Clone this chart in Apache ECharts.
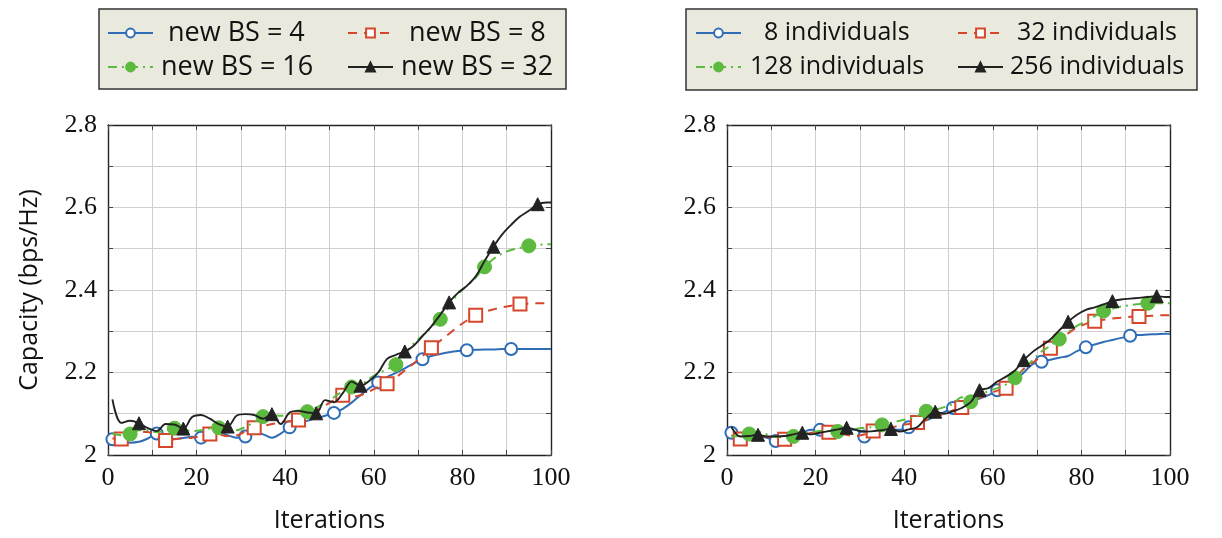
<!DOCTYPE html>
<html>
<head>
<meta charset="utf-8">
<script src="https://cdn.jsdelivr.net/npm/echarts@6/dist/echarts.min.js"></script>
<style>
  html, body { margin: 0; padding: 0; background: #ffffff; }
  #chart { width: 1222px; height: 538px; }
</style>
</head>
<body>
<div id="chart"></div>
<script>
// Iteration positions at which each curve is sampled
const iterations = [1, 3, 5, 7, 9, 11, 13, 15, 17, 19, 21, 23, 25, 27, 29, 31, 33, 35, 37, 39,
  41, 43, 45, 47, 49, 51, 53, 55, 57, 59, 61, 63, 65, 67, 69, 71, 73, 75, 77, 79,
  81, 83, 85, 87, 89, 91, 93, 95, 97, 99, 100];

// Left panel: number of new base stations
const newBsNames = ['new BS = 4', 'new BS = 8', 'new BS = 16', 'new BS = 32'];
const newBs4 = [2.038, 2.031, 2.030, 2.032, 2.040, 2.052, 2.044, 2.039, 2.041, 2.044,
  2.042, 2.050, 2.055, 2.048, 2.042, 2.045, 2.055, 2.050, 2.042, 2.052,
  2.067, 2.076, 2.083, 2.089, 2.095, 2.102, 2.112, 2.127, 2.145, 2.162,
  2.176, 2.189, 2.199, 2.210, 2.222, 2.232, 2.240, 2.245, 2.249, 2.252,
  2.254, 2.255, 2.256, 2.256, 2.257, 2.257, 2.257, 2.257, 2.257, 2.257, 2.257];
const newBs8 = [2.040, 2.039, 2.045, 2.055, 2.056, 2.045, 2.035, 2.038, 2.041, 2.042,
  2.046, 2.051, 2.050, 2.046, 2.047, 2.057, 2.066, 2.070, 2.075, 2.079,
  2.082, 2.085, 2.096, 2.108, 2.120, 2.133, 2.145, 2.141, 2.145, 2.154,
  2.165, 2.173, 2.188, 2.205, 2.222, 2.240, 2.260, 2.277, 2.294, 2.311,
  2.326, 2.339, 2.347, 2.353, 2.358, 2.362, 2.366, 2.367, 2.368, 2.368, 2.368];
const newBs16 = [2.052, 2.048, 2.051, 2.060, 2.060, 2.055, 2.060, 2.065, 2.062, 2.058,
  2.060, 2.064, 2.066, 2.062, 2.060, 2.068, 2.080, 2.093, 2.096, 2.095,
  2.100, 2.108, 2.105, 2.115, 2.127, 2.140, 2.155, 2.165, 2.170, 2.185,
  2.198, 2.208, 2.219, 2.245, 2.270, 2.290, 2.310, 2.329, 2.360, 2.390,
  2.410, 2.430, 2.456, 2.475, 2.488, 2.497, 2.502, 2.507, 2.509, 2.511, 2.511];
const newBs32 = [2.135, 2.078, 2.083, 2.077, 2.065, 2.058, 2.075, 2.074, 2.064, 2.092,
  2.097, 2.088, 2.075, 2.069, 2.095, 2.099, 2.097, 2.088, 2.099, 2.075,
  2.103, 2.107, 2.103, 2.101, 2.133, 2.128, 2.150, 2.178, 2.168, 2.180,
  2.200, 2.233, 2.243, 2.251, 2.265, 2.288, 2.312, 2.340, 2.370, 2.393,
  2.410, 2.433, 2.470, 2.505, 2.535, 2.558, 2.578, 2.592, 2.608, 2.612, 2.612];

// Right panel: population size
const popNames = ['8 individuals', '32 individuals', '128 individuals', '256 individuals'];
const pop8 = [2.054, 2.040, 2.043, 2.045, 2.042, 2.034, 2.045, 2.051, 2.055, 2.061,
  2.061, 2.055, 2.051, 2.058, 2.062, 2.045, 2.060, 2.066, 2.063, 2.061,
  2.067, 2.075, 2.084, 2.093, 2.104, 2.114, 2.122, 2.131, 2.137, 2.145,
  2.157, 2.168, 2.180, 2.200, 2.220, 2.226, 2.231, 2.236, 2.240, 2.252,
  2.261, 2.268, 2.274, 2.279, 2.284, 2.289, 2.291, 2.292, 2.293, 2.294, 2.294];
const pop32 = [2.048, 2.039, 2.043, 2.046, 2.044, 2.040, 2.038, 2.043, 2.050, 2.054,
  2.056, 2.055, 2.053, 2.049, 2.046, 2.050, 2.058, 2.062, 2.066, 2.072,
  2.075, 2.079, 2.085, 2.092, 2.100, 2.108, 2.115, 2.127, 2.138, 2.148,
  2.156, 2.162, 2.185, 2.209, 2.224, 2.239, 2.259, 2.280, 2.295, 2.309,
  2.318, 2.324, 2.328, 2.331, 2.333, 2.335, 2.336, 2.337, 2.338, 2.339, 2.339];
const pop128 = [2.045, 2.046, 2.051, 2.056, 2.050, 2.044, 2.043, 2.045, 2.050, 2.055,
  2.058, 2.058, 2.057, 2.060, 2.063, 2.066, 2.068, 2.073, 2.078, 2.083,
  2.088, 2.095, 2.106, 2.110, 2.116, 2.124, 2.140, 2.129, 2.143, 2.155,
  2.162, 2.171, 2.187, 2.208, 2.230, 2.251, 2.265, 2.281, 2.298, 2.313,
  2.324, 2.336, 2.349, 2.355, 2.360, 2.363, 2.366, 2.368, 2.368, 2.368, 2.368];
const pop256 = [2.068, 2.045, 2.046, 2.049, 2.045, 2.045, 2.046, 2.050, 2.054, 2.050,
  2.054, 2.058, 2.062, 2.066, 2.061, 2.056, 2.058, 2.060, 2.063, 2.057,
  2.062, 2.068, 2.090, 2.105, 2.100, 2.106, 2.114, 2.128, 2.157, 2.162,
  2.178, 2.190, 2.205, 2.230, 2.250, 2.265, 2.280, 2.302, 2.323, 2.340,
  2.352, 2.358, 2.365, 2.373, 2.377, 2.379, 2.381, 2.383, 2.385, 2.383, 2.383];

// Axis ticks
const xTicks = [0, 20, 40, 60, 80, 100];
const yTicks = [2, 2.2, 2.4, 2.6, 2.8];

// Line/marker styles shared by both panels (blue, red, green, black)
const styles = [
  { color: '#2f6db6', type: 'solid', width: 2, symbol: 'circle', size: 12, hollow: true, offset: 1 },
  { color: '#d5462b', type: [9, 7], width: 2, symbol: 'rect', size: 13, hollow: true, offset: 3 },
  { color: '#5cba3e', type: [9, 5, 2, 5], width: 2, symbol: 'circle', size: 14, hollow: false, offset: 5 },
  { color: '#222222', type: 'solid', width: 1.9, symbol: 'triangle', size: 13, hollow: false, offset: 7 }
];

const serifFont = '"Liberation Serif", "DejaVu Serif", serif';
const sansFont = '"Open Sans", "Noto Sans", sans-serif';

function buildSeries(name, values, st, order, axisIdx) {
  const data = iterations.map((x, i) => {
    const item = { value: [x, values[i]] };
    if ((x - st.offset) % 10 !== 0) item.symbol = 'none';
    return item;
  });
  return {
    name: name,
    type: 'line',
    xAxisIndex: axisIdx,
    yAxisIndex: axisIdx,
    data: data,
    smooth: 0.35,
    symbol: st.symbol,
    symbolSize: st.size,
    showSymbol: true,
    lineStyle: { color: st.color, width: st.width, type: st.type },
    itemStyle: st.hollow
      ? { color: '#ffffff', borderColor: st.color, borderWidth: 2 }
      : { color: st.color, borderColor: st.color, borderWidth: 1 },
    emphasis: { disabled: true },
    animation: false,
    z: 3 + order
  };
}

function labelX(v) {
  return xTicks.indexOf(v) >= 0 ? String(v) : '';
}
function labelY(v) {
  const r = Math.round(v * 10) / 10;
  return yTicks.some(t => Math.abs(t - r) < 1e-6) ? String(r) : '';
}

const frameLine = { color: '#222', width: 1.4 };
const tickLine = { color: '#444', width: 1 };
const gridLine = { color: '#cfcfcf', width: 1 };

function bottomAxis(gridIndex) {
  return {
    type: 'value', gridIndex: gridIndex, position: 'bottom',
    min: 0, max: 100, interval: 10,
    axisLine: { show: true, onZero: false, lineStyle: frameLine },
    axisTick: { show: true, inside: true, length: 5, lineStyle: tickLine },
    splitLine: { show: true, lineStyle: gridLine },
    axisLabel: { formatter: labelX, fontFamily: serifFont, fontSize: 26, color: '#111', margin: 10 },
    name: 'Iterations', nameLocation: 'middle', nameGap: 53,
    nameTextStyle: { fontFamily: sansFont, fontSize: 25, color: '#111' }
  };
}
function topAxis(gridIndex) {
  return {
    type: 'value', gridIndex: gridIndex, position: 'top',
    min: 0, max: 100, interval: 10,
    axisLine: { show: true, onZero: false, lineStyle: frameLine },
    axisTick: { show: true, inside: true, length: 5, lineStyle: tickLine },
    splitLine: { show: false }, axisLabel: { show: false }
  };
}
function leftAxis(gridIndex, withName) {
  const ax = {
    type: 'value', gridIndex: gridIndex, position: 'left',
    min: 2, max: 2.8, interval: 0.1,
    axisLine: { show: true, onZero: false, lineStyle: frameLine },
    axisTick: { show: true, inside: true, length: 5, lineStyle: tickLine },
    splitLine: { show: true, lineStyle: gridLine },
    axisLabel: { formatter: labelY, fontFamily: serifFont, fontSize: 26, color: '#111', margin: 11 }
  };
  if (withName) {
    ax.name = 'Capacity (bps/Hz)';
    ax.nameLocation = 'middle';
    ax.nameGap = 66;
    ax.nameTextStyle = { fontFamily: sansFont, fontSize: 25, color: '#111' };
  }
  return ax;
}
function rightAxis(gridIndex) {
  return {
    type: 'value', gridIndex: gridIndex, position: 'right',
    min: 2, max: 2.8, interval: 0.1,
    axisLine: { show: true, onZero: false, lineStyle: frameLine },
    axisTick: { show: true, inside: true, length: 5, lineStyle: tickLine },
    splitLine: { show: false }, axisLabel: { show: false }
  };
}

// One legend component per entry so the two-column boxes line up
function legendItem(name, left, top, textPad, fontSize) {
  return {
    data: [name], left: left, top: top, padding: 0,
    itemWidth: 45, itemHeight: 11, selectedMode: false,
    textStyle: { fontFamily: sansFont, fontSize: fontSize, color: '#111', lineHeight: 30, padding: [0, 0, 0, textPad] }
  };
}

const series = [];
const leftValues = [newBs4, newBs8, newBs16, newBs32];
const rightValues = [pop8, pop32, pop128, pop256];
leftValues.forEach((vals, i) => series.push(buildSeries(newBsNames[i], vals, styles[i], i, 0)));
rightValues.forEach((vals, i) => series.push(buildSeries(popNames[i], vals, styles[i], i, 2)));

const option = {
  backgroundColor: '#ffffff',
  animation: false,
  grid: [
    { left: 108, top: 125, width: 443, height: 333 },
    { left: 727, top: 125, width: 443, height: 333 }
  ],
  xAxis: [bottomAxis(0), topAxis(0), bottomAxis(1), topAxis(1)],
  yAxis: [leftAxis(0, true), rightAxis(0), leftAxis(1, false), rightAxis(1)],
  graphic: [
    { type: 'rect', z: 1, shape: { x: 99, y: 9, width: 467, height: 80 },
      style: { fill: '#eae9dd', stroke: '#333', lineWidth: 1.5 } },
    { type: 'rect', z: 1, shape: { x: 686, y: 9, width: 511, height: 81 },
      style: { fill: '#eae9dd', stroke: '#333', lineWidth: 1.5 } }
  ],
  legend: [
    legendItem(newBsNames[0], 107, 18, 10, 27),
    legendItem(newBsNames[1], 347, 18, 11, 27),
    legendItem(newBsNames[2], 107, 52, 3, 27),
    legendItem(newBsNames[3], 347, 52, 3, 27),
    legendItem(popNames[0], 695, 18, 18, 25),
    legendItem(popNames[1], 957, 18, 9, 25),
    legendItem(popNames[2], 695, 52, 4, 25),
    legendItem(popNames[3], 957, 52, 2, 25)
  ],
  series: series
};

const chart = echarts.init(document.getElementById('chart'), null, { renderer: 'canvas' });
chart.setOption(option);
</script>
</body>
</html>
